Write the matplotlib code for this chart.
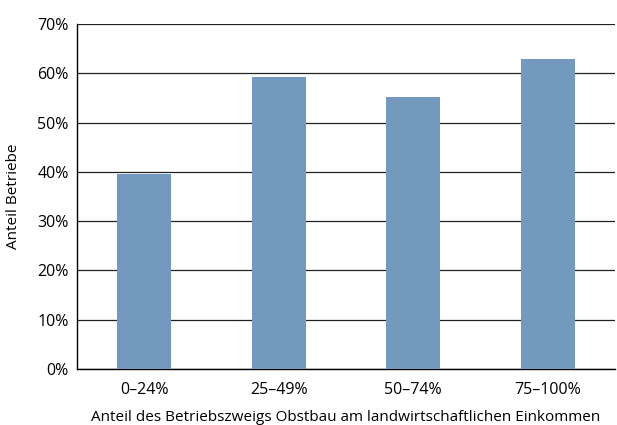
import matplotlib.pyplot as plt
from matplotlib.ticker import FuncFormatter

categories = ["0–24%", "25–49%", "50–74%", "75–100%"]
values = [39.5, 59.3, 55.1, 62.8]
yticks = [0, 10, 20, 30, 40, 50, 60, 70]


def main():
    plt.rcParams["font.family"] = ["Open Sans", "DejaVu Sans"]
    plt.rcParams["font.size"] = 11

    fig = plt.figure(figsize=(6.17, 4.25), dpi=100)
    ax = fig.add_axes([77 / 617, 56 / 425, 538 / 617, 345 / 425])

    ax.bar(range(len(categories)), values, width=0.4, color="#7399bf", zorder=3)
    ax.set_xlim(-0.5, len(categories) - 0.5)
    ax.set_ylim(0, 70)
    ax.set_yticks(yticks)
    ax.yaxis.set_major_formatter(FuncFormatter(lambda v, p: f"{v:.0f}%"))
    ax.set_xticks(range(len(categories)))
    ax.set_xticklabels(categories)
    ax.grid(axis="y", color="#222222", linewidth=0.9, zorder=0)
    ax.tick_params(length=0, labelsize=11.5)
    ax.tick_params(axis="x", pad=9)
    ax.tick_params(axis="y", pad=6)
    for s in ["top", "right"]:
        ax.spines[s].set_visible(False)
    ax.spines["left"].set_linewidth(1.0)
    ax.spines["bottom"].set_linewidth(1.0)

    ax.set_xlabel("Anteil des Betriebszweigs Obstbau am landwirtschaftlichen Einkommen",
                  fontsize=11, labelpad=9)
    ax.set_ylabel("Anteil Betriebe", fontsize=11, labelpad=12)

    fig.savefig("out.png", dpi=100)
    plt.close(fig)


if __name__ == '__main__':
    main()
